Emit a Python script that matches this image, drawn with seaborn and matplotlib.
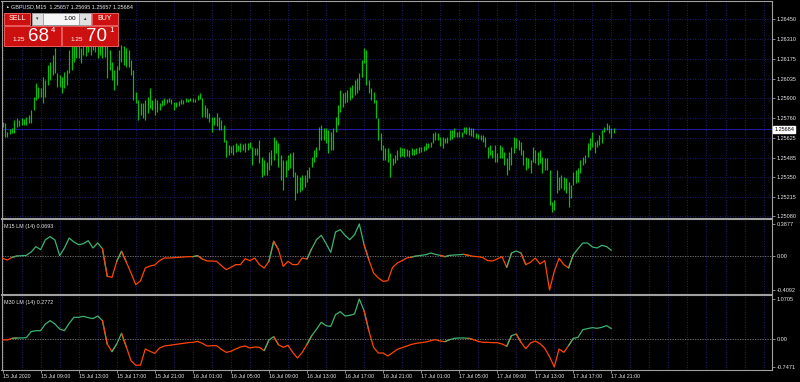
import numpy as np
import matplotlib
matplotlib.use("Agg")
import matplotlib.pyplot as plt
import matplotlib.transforms as mtrans
from matplotlib.patches import Rectangle
import seaborn as sns

# ---------------- data ----------------
symbol = "GBPUSD,M15"
last_open, last_high, last_low, last_close = 1.25657, 1.25695, 1.25657, 1.25684
bid, ask = 1.25684, 1.25701
lot = 1.00

highs = [
    1.25734, 1.25727, 1.25665, 1.25685, 1.25692, 1.25748, 1.25762, 1.25748, 1.25762, 1.25755,
    1.25769, 1.25783, 1.25818, 1.25908, 1.26005, 1.25977, 1.25970, 1.26047, 1.26026, 1.26130,
    1.26151, 1.26200, 1.26248, 1.26075, 1.26061, 1.26047, 1.26082, 1.26096, 1.26235, 1.26269,
    1.26276, 1.26290, 1.26269, 1.26248, 1.26304, 1.26290, 1.26318, 1.26304, 1.26332, 1.26318,
    1.26290, 1.26304, 1.26276, 1.26304, 1.26269, 1.26235, 1.26151, 1.26096, 1.26123, 1.26235,
    1.26269, 1.26262, 1.26248, 1.26235, 1.26165, 1.26096, 1.25943, 1.25887, 1.25866, 1.25866,
    1.25887, 1.25908, 1.25970, 1.25887, 1.25901, 1.25887, 1.25866, 1.25887, 1.25901, 1.25894,
    1.25901, 1.25894, 1.25873, 1.25873, 1.25880, 1.25894, 1.25887, 1.25901, 1.25894, 1.25901,
    1.25901, 1.25894, 1.25922, 1.25936, 1.25901, 1.25852, 1.25831, 1.25797, 1.25769, 1.25769,
    1.25797, 1.25769, 1.25748, 1.25713, 1.25609, 1.25574, 1.25567, 1.25574, 1.25588, 1.25574,
    1.25588, 1.25581, 1.25588, 1.25588, 1.25595, 1.25560, 1.25553, 1.25553, 1.25609, 1.25491,
    1.25470, 1.25456, 1.25526, 1.25540, 1.25630, 1.25609, 1.25588, 1.25505, 1.25470, 1.25470,
    1.25505, 1.25519, 1.25526, 1.25387, 1.25366, 1.25352, 1.25366, 1.25366, 1.25401, 1.25421,
    1.25491, 1.25540, 1.25560, 1.25699, 1.25713, 1.25692, 1.25692, 1.25679, 1.25665, 1.25692,
    1.25769, 1.25852, 1.25957, 1.25936, 1.25943, 1.25957, 1.25977, 1.25991, 1.26026, 1.26040,
    1.26075, 1.26165, 1.26248, 1.26235, 1.26026, 1.25970, 1.25943, 1.25887, 1.25762, 1.25658,
    1.25574, 1.25553, 1.25553, 1.25519, 1.25484, 1.25505, 1.25540, 1.25560, 1.25553, 1.25553,
    1.25547, 1.25540, 1.25553, 1.25547, 1.25553, 1.25560, 1.25560, 1.25567, 1.25588, 1.25588,
    1.25595, 1.25658, 1.25665, 1.25658, 1.25630, 1.25630, 1.25623, 1.25630, 1.25679, 1.25679,
    1.25692, 1.25665, 1.25672, 1.25665, 1.25699, 1.25699, 1.25699, 1.25692, 1.25692, 1.25658,
    1.25651, 1.25644, 1.25644, 1.25630, 1.25560, 1.25574, 1.25540, 1.25574, 1.25519, 1.25574,
    1.25560, 1.25526, 1.25484, 1.25526, 1.25560, 1.25630, 1.25623, 1.25609, 1.25595, 1.25540,
    1.25491, 1.25484, 1.25470, 1.25560, 1.25540, 1.25526, 1.25540, 1.25491, 1.25484, 1.25484,
    1.25401, 1.25178, 1.25192, 1.25401, 1.25352, 1.25366, 1.25352, 1.25345, 1.25317, 1.25296,
    1.25387, 1.25401, 1.25414, 1.25470, 1.25491, 1.25505, 1.25588, 1.25623, 1.25665, 1.25595,
    1.25609, 1.25644, 1.25679, 1.25699, 1.25727, 1.25713, 1.25692, 1.25695]

lows = [
    1.25699, 1.25630, 1.25630, 1.25651, 1.25658, 1.25658, 1.25699, 1.25706, 1.25713, 1.25713,
    1.25713, 1.25727, 1.25727, 1.25818, 1.25887, 1.25901, 1.25908, 1.25866, 1.25908, 1.25991,
    1.26026, 1.26061, 1.26075, 1.25977, 1.25977, 1.25936, 1.25970, 1.25991, 1.26075, 1.26096,
    1.26151, 1.26179, 1.26179, 1.26144, 1.26200, 1.26193, 1.26221, 1.26200, 1.26235, 1.26221,
    1.26179, 1.26200, 1.26179, 1.26186, 1.26040, 1.26096, 1.26026, 1.25957, 1.25991, 1.26096,
    1.26151, 1.26130, 1.26116, 1.26116, 1.26061, 1.25887, 1.25866, 1.25748, 1.25783, 1.25762,
    1.25748, 1.25797, 1.25831, 1.25818, 1.25783, 1.25804, 1.25818, 1.25845, 1.25852, 1.25866,
    1.25873, 1.25859, 1.25818, 1.25838, 1.25845, 1.25859, 1.25859, 1.25873, 1.25873, 1.25880,
    1.25873, 1.25873, 1.25887, 1.25894, 1.25769, 1.25769, 1.25762, 1.25734, 1.25665, 1.25713,
    1.25706, 1.25679, 1.25679, 1.25595, 1.25491, 1.25505, 1.25519, 1.25505, 1.25526, 1.25533,
    1.25526, 1.25540, 1.25526, 1.25540, 1.25553, 1.25435, 1.25505, 1.25505, 1.25449, 1.25352,
    1.25366, 1.25366, 1.25401, 1.25435, 1.25470, 1.25519, 1.25421, 1.25331, 1.25262, 1.25352,
    1.25401, 1.25414, 1.25352, 1.25192, 1.25241, 1.25248, 1.25262, 1.25282, 1.25317, 1.25345,
    1.25421, 1.25456, 1.25491, 1.25540, 1.25609, 1.25609, 1.25588, 1.25519, 1.25540, 1.25540,
    1.25665, 1.25713, 1.25804, 1.25838, 1.25866, 1.25873, 1.25887, 1.25901, 1.25922, 1.25936,
    1.25957, 1.26047, 1.26144, 1.25991, 1.25936, 1.25887, 1.25866, 1.25762, 1.25609, 1.25540,
    1.25470, 1.25470, 1.25456, 1.25352, 1.25435, 1.25449, 1.25470, 1.25491, 1.25498, 1.25491,
    1.25498, 1.25491, 1.25505, 1.25505, 1.25512, 1.25519, 1.25526, 1.25533, 1.25540, 1.25553,
    1.25560, 1.25588, 1.25609, 1.25609, 1.25567, 1.25553, 1.25588, 1.25588, 1.25609, 1.25616,
    1.25630, 1.25630, 1.25630, 1.25630, 1.25658, 1.25651, 1.25644, 1.25637, 1.25630, 1.25623,
    1.25616, 1.25609, 1.25595, 1.25560, 1.25484, 1.25505, 1.25484, 1.25456, 1.25456, 1.25484,
    1.25484, 1.25435, 1.25366, 1.25401, 1.25435, 1.25519, 1.25553, 1.25540, 1.25505, 1.25435,
    1.25401, 1.25414, 1.25380, 1.25456, 1.25449, 1.25435, 1.25449, 1.25380, 1.25401, 1.25401,
    1.25157, 1.25109, 1.25122, 1.25241, 1.25262, 1.25275, 1.25262, 1.25241, 1.25143, 1.25206,
    1.25296, 1.25310, 1.25317, 1.25380, 1.25435, 1.25449, 1.25491, 1.25540, 1.25560, 1.25519,
    1.25560, 1.25574, 1.25588, 1.25665, 1.25679, 1.25658, 1.25623, 1.25657]

# indicator values, one per 30 minutes (every second M15 bar)
m15_lm = [
    -0.027, -0.047, -0.015, 0.001, 0.005, 0.009, 0.049, 0.114, 0.078, 0.198,
    0.235, 0.194, 0.005, 0.098, 0.218, 0.170, 0.138, 0.150, 0.186, 0.098,
    0.158, 0.089, -0.244, -0.256, -0.063, 0.058, -0.071, -0.204, -0.345, -0.297,
    -0.144, -0.119, -0.107, -0.055, -0.023, -0.023, -0.019, -0.015, -0.011, -0.007,
    -0.007, 0.005, -0.035, -0.059, -0.059, -0.063, -0.115, -0.164, -0.136, -0.103,
    -0.103, -0.031, -0.055, -0.023, -0.103, -0.144, -0.063, 0.178, 0.078, -0.124,
    -0.063, -0.103, -0.103, -0.023, -0.035, 0.090, 0.198, 0.251, 0.154, 0.045,
    0.291, 0.319, 0.251, 0.198, 0.259, 0.3877, 0.138, -0.043, -0.204, -0.264,
    -0.305, -0.297, -0.136, -0.083, -0.055, -0.023, -0.011, 0.001, 0.009, 0.017,
    0.037, 0.021, 0.009, -0.007, 0.009, 0.013, 0.017, 0.021, 0.009, -0.003,
    -0.007, -0.019, -0.055, -0.059, -0.035, -0.007, -0.136, 0.037, 0.062, 0.037,
    -0.103, -0.075, -0.023, -0.095, -0.055, -0.4092, -0.184, -0.027, -0.103, -0.144,
    0.017, 0.090, 0.158, 0.158, 0.110, 0.098, 0.130, 0.114, 0.0693]

m30_lm = [
    -0.018, -0.027, 0.018, 0.027, 0.027, 0.036, 0.196, 0.223, 0.223, 0.402,
    0.491, 0.402, 0.268, 0.223, 0.420, 0.580, 0.580, 0.607, 0.572, 0.545,
    0.616, 0.491, -0.134, -0.339, -0.134, 0.152, -0.205, -0.580, -0.705, -0.697,
    -0.268, -0.330, -0.384, -0.241, -0.188, -0.170, -0.152, -0.134, -0.116, -0.098,
    -0.089, -0.063, -0.116, -0.188, -0.179, -0.179, -0.277, -0.357, -0.330, -0.268,
    -0.214, -0.188, -0.241, -0.214, -0.223, -0.313, -0.027, 0.063, -0.152, -0.223,
    -0.170, -0.357, -0.509, -0.357, -0.143, 0.089, 0.259, 0.447, 0.357, 0.339,
    0.652, 0.732, 0.616, 0.634, 0.670, 1.0705, 0.759, 0.223, -0.223, -0.375,
    -0.375, -0.455, -0.366, -0.277, -0.232, -0.188, -0.143, -0.116, -0.098, -0.080,
    -0.045, -0.018, -0.054, -0.071, -0.018, 0.018, 0.027, 0.027, 0.018, -0.018,
    -0.063, -0.089, -0.089, -0.098, -0.098, -0.134, -0.196, 0.089, 0.134, -0.089,
    -0.259, -0.107, -0.054, -0.125, -0.250, -0.473, -0.7471, -0.268, -0.357, -0.179,
    0.018, 0.045, 0.250, 0.277, 0.304, 0.286, 0.313, 0.357, 0.2772]

# colour state of the indicator line: (first point index, colour)
m15_runs = [(1, "o"), (3, "g"), (22, "o"), (25, "g"), (26, "o"), (41, "g"), (42, "o"),
            (57, "g"), (58, "o"), (65, "g"), (77, "o"), (87, "g"), (93, "o"), (94, "g"),
            (98, "o"), (107, "g"), (110, "o"), (120, "g")]
m30_runs = [(1, "o"), (3, "g"), (22, "o"), (24, "g"), (26, "o"), (56, "g"), (58, "o"),
            (65, "g"), (77, "o"), (94, "g"), (99, "o"), (107, "g"), (109, "o"), (120, "g")]

price_ticks = [1.26450, 1.26310, 1.26175, 1.26035, 1.25900, 1.25760,
               1.25625, 1.25485, 1.25350, 1.25215, 1.25080]
time_labels = ["15 Jul 2020", "15 Jul 09:00", "15 Jul 13:00", "15 Jul 17:00",
               "15 Jul 21:00", "16 Jul 01:00", "16 Jul 05:00", "16 Jul 09:00",
               "16 Jul 13:00", "16 Jul 17:00", "16 Jul 21:00", "17 Jul 01:00",
               "17 Jul 05:00", "17 Jul 09:00", "17 Jul 13:00", "17 Jul 17:00",
               "17 Jul 21:00"]
bars_per_label = 16
bars_per_grid = 8
lm_step = 2

# ---------------- style ----------------
sns.set_theme(style="dark")
plt.rcParams["font.family"] = ["Liberation Sans", "DejaVu Sans"]
BG = "black"
FRAME = "#a0a0a0"
TXT = "#e6e6e6"
GRID = "#22227a"
BARC = "#00c400"
GREEN = "#3cb371"
ORANGE = "#ff4500"

W, H = 800, 382
fig = plt.figure(figsize=(W / 100, H / 100), dpi=100, facecolor=BG)


def px_axes(x0, y0, x1, y1, z=1):
    return fig.add_axes([x0 / W, 1 - y1 / H, (x1 - x0) / W, (y1 - y0) / H], zorder=z)


ax0 = px_axes(1.5, 0.5, 772, 218)
ax1 = px_axes(1.5, 219, 772, 294)
ax2 = px_axes(1.5, 295, 772, 369.5)

n = len(highs)
bar_idx = np.arange(n)
lm_idx = np.arange(0, n, lm_step)[: len(m15_lm)]
XMIN, XMAX = -0.46, 323.55

for ax in (ax0, ax1, ax2):
    ax.set_facecolor(BG)
    ax.grid(False)
    for s in ax.spines.values():
        s.set_color(FRAME)
        s.set_linewidth(0.8)
    for gx in np.arange(0, XMAX, bars_per_grid):
        ax.axvline(gx, color=GRID, lw=0.6, ls=(0, (1.2, 1.8)), zorder=0)

# price bars
for pt in price_ticks:
    ax0.axhline(pt, color=GRID, lw=0.6, ls=(0, (1.2, 1.8)), zorder=0)
ax0.axhline(bid, color="#1c1ca8", lw=0.7, zorder=1)
ax0.vlines(bar_idx, lows, highs, color=BARC, lw=0.85, zorder=2)
ax0.set_ylim(1.250669, 1.265785)
ax0.set_yticks(price_ticks)
ax0.set_yticklabels([f"{p:.5f}" for p in price_ticks])
blend0 = mtrans.blended_transform_factory(ax0.transAxes, ax0.transData)
ax0.text(1.0028, bid, f"{bid:.5f}", transform=blend0, ha="left", va="center",
         fontsize=4.0, color="black",
         bbox=dict(boxstyle="square,pad=0.18", fc="white", ec="white"))


def draw_lm(ax, v, runs):
    v = np.asarray(v)
    for j, (s, c) in enumerate(runs):
        e = runs[j + 1][0] if j + 1 < len(runs) else len(v) - 1
        sl = slice(s - 1, e + 1)
        sns.lineplot(x=lm_idx[sl], y=v[sl], color=GREEN if c == "g" else ORANGE,
                     lw=0.9, ax=ax, sort=False, estimator=None, legend=False, zorder=3)
    ax.axhline(0, color="#808080", lw=0.6, ls=(0, (1.5, 1.5)), zorder=1)


draw_lm(ax1, m15_lm, m15_runs)
draw_lm(ax2, m30_lm, m30_runs)
ax1.set_ylim(-0.4575, 0.4478)
ax2.set_ylim(-0.8162, 1.1774)
for ax, v in ((ax1, m15_lm), (ax2, m30_lm)):
    ticks = [max(v), 0.0, min(v)]
    ax.set_yticks(ticks)
    ax.set_yticklabels([f"{max(v):.4f}", "0.00", f"{min(v):.4f}"])
ax1.text(0.0035, 0.93, f"M15 LM (14) {m15_lm[-1]:.4f}", transform=ax1.transAxes,
         fontsize=3.9, color=TXT, ha="left", va="top")
ax2.text(0.0035, 0.93, f"M30 LM (14) {m30_lm[-1]:.4f}", transform=ax2.transAxes,
         fontsize=3.9, color=TXT, ha="left", va="top")

for ax in (ax0, ax1, ax2):
    ax.set_xlim(XMIN, XMAX)
    ax.set_xlabel("")
    ax.set_ylabel("")
    ax.yaxis.tick_right()
    ax.tick_params(axis="y", which="both", right=True, left=False, direction="out",
                   length=2.2, width=0.6, color=FRAME, labelcolor=TXT,
                   labelsize=4.0, pad=1.2)
    ax.set_xticks([])

ax2.set_xticks(np.arange(0, bars_per_label * len(time_labels), bars_per_label))
ax2.set_xticklabels(time_labels)
for lbl in ax2.get_xticklabels():
    lbl.set_ha("left")
ax2.tick_params(axis="x", bottom=True, direction="out", length=2.2, width=0.6,
                color=FRAME, labelcolor=TXT, labelsize=3.8, pad=0.8)

# ---------------- header and trade panel (screen overlay) ----------------
ov = fig.add_axes([0, 0, 1, 1], zorder=10)
ov.set_xlim(0, W)
ov.set_ylim(H, 0)
ov.axis("off")
ov.patch.set_alpha(0)

ov.text(5, 6.5, "\u25B2", fontsize=2.6, color=TXT, ha="left", va="center")
ov.text(11, 6.5, f"{symbol}  {last_open:.5f} {last_high:.5f} {last_low:.5f} {last_close:.5f}",
        fontsize=4.0, color=TXT, ha="left", va="center")

RED = "#cc1010"
RED_EDGE = "#ff6a6a"


def box(x0, y0, x1, y1, fc, ec, lw=0.6):
    ov.add_patch(Rectangle((x0, y0), x1 - x0, y1 - y0, fc=fc, ec=ec, lw=lw))


box(4, 12.5, 30, 24.5, RED, RED_EDGE)
ov.text(17, 18.7, "SELL", fontsize=5.0, color="white", ha="center", va="center")
box(91.5, 12.5, 117.5, 24.5, RED, RED_EDGE)
ov.text(104.5, 18.7, "BUY", fontsize=5.0, color="white", ha="center", va="center")
box(31.5, 12.5, 90.5, 24.5, "#f6f6f6", "#9a9a9a")
box(31.5, 12.5, 43, 24.5, "#e0e0e0", "#9a9a9a")
box(79, 12.5, 90.5, 24.5, "#e0e0e0", "#9a9a9a")
ov.text(37.2, 18.7, "\u25BE", fontsize=3.5, color="#303030", ha="center", va="center")
ov.text(84.8, 18.4, "\u25B4", fontsize=3.5, color="#303030", ha="center", va="center")
ov.text(76.5, 18.7, f"{lot:.2f}", fontsize=4.6, color="black", ha="right", va="center")

for x0, x1, price in ((4, 60.5, bid), (62, 117.5, ask)):
    box(x0, 26, x1, 45.5, RED, RED_EDGE)
    s = f"{price:.5f}"
    ov.text(x0 + 8.5, 39.5, s[:4], fontsize=4.6, color="white", ha="left", va="center")
    ov.text(x0 + 24, 36.2, s[4:6], fontsize=13.5, color="white", ha="left", va="center")
    ov.text(x0 + 47, 30.5, s[6], fontsize=5.6, color="white", ha="left", va="center")

fig.savefig("out.png", dpi=100, facecolor=BG)
